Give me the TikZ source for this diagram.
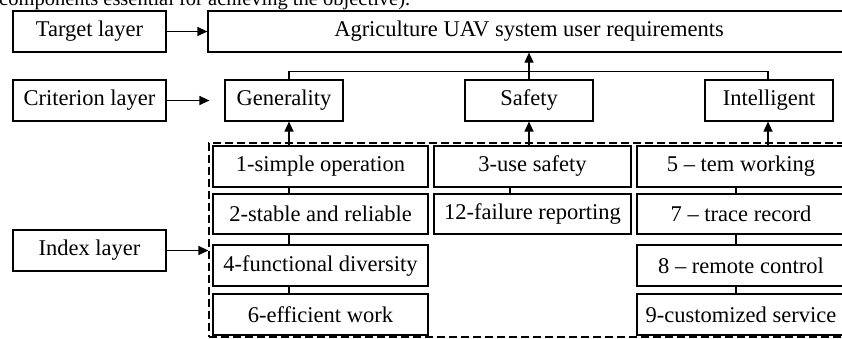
\documentclass[tikz,border=0pt]{standalone}
\usepackage{fontspec}
\setmainfont{Liberation Serif}
\usetikzlibrary{arrows.meta}
\begin{document}
\begin{tikzpicture}[x=1pt,y=-1pt,
  box/.style={draw, line width=1.2pt, inner sep=0pt, font=\fontsize{22.5}{24}\selectfont},
  ln/.style={line width=1.2pt},
  arr/.style={line width=1.2pt, -{Triangle[length=10pt,width=9pt]}},
  frame/.style={draw, line width=1.2pt, dash pattern=on 8pt off 4pt}]
\clip (0,0) rectangle (842,338);
\node[anchor=base west, inner sep=0pt, font=\fontsize{20.5}{22}\selectfont] (cap) at (-1,5.5) {components essential for achieving the objective).};
% left labels
\node[box, minimum width=153pt, minimum height=41pt] (target) at (89.5,31.5) {Target layer};
\node[box, minimum width=153pt, minimum height=41pt] (crit) at (89.5,100.5) {Criterion layer};
\node[box, minimum width=153pt, minimum height=41pt] (index) at (89.5,250.5) {Index layer};
% target
\node[box, minimum width=642pt, minimum height=41pt] (agri) at (529,31.5) {Agriculture UAV system user requirements};
% criteria
\node[box, minimum width=118pt, minimum height=41pt] (gen) at (284,100.5) {Generality};
\node[box, minimum width=128pt, minimum height=41pt] (saf) at (529,100.5) {Safety};
\node[box, minimum width=128pt, minimum height=41pt] (intl) at (769,100.5) {Intelligent};
% index frame
\node[frame, minimum width=641pt, minimum height=194pt] (fr) at (529.5,240) {};
% column 1
\node[box, minimum width=215pt, minimum height=41pt] (a1) at (320.5,166.5) {1-simple operation};
\node[box, minimum width=215pt, minimum height=40pt] (a2) at (320.5,214) {2-stable and reliable};
\node[box, minimum width=215pt, minimum height=41pt] (a3) at (320.5,265.5) {4-functional diversity};
\node[box, minimum width=215pt, minimum height=41pt] (a4) at (320.5,314.5) {6-efficient work};
% column 2
\node[box, minimum width=197pt, minimum height=41pt] (b1) at (532.5,166.5) {3-use safety};
\node[box, minimum width=197pt, minimum height=40pt] (b2) at (532.5,214) {12-failure reporting};
% column 3
\node[box, minimum width=208pt, minimum height=41pt] (c1) at (741,166.5) {5 -- tem working};
\node[box, minimum width=208pt, minimum height=40pt] (c2) at (741,214) {7 -- trace record};
\node[box, minimum width=208pt, minimum height=41pt] (c3) at (741,265.5) {8 -- remote control};
\node[box, minimum width=208pt, minimum height=41pt] (c4) at (741,314.5) {9-customized service};
% layer arrows
\draw[arr] (target) -- (agri);
\draw[arr, shorten >=15pt] (crit) -- (gen);
\draw[arr] (index.east) -- (index.east -| fr.west);
% tree to target
\draw[ln] ([xshift=5pt]gen.north) -- ++(0,-8) -| ([xshift=-1pt]intl.north);
\draw[arr] (saf.north) -- (saf.north |- agri.south);
% index to criteria
\draw[arr] ([xshift=-31.5pt]a1.north) -- ([xshift=-31.5pt]a1.north |- gen.south);
\draw[arr] ([xshift=-3.5pt]b1.north) -- ([xshift=-3.5pt]b1.north |- saf.south);
\draw[arr] ([xshift=27pt]c1.north) -- ([xshift=27pt]c1.north |- intl.south);
% column connectors
\draw[ln] ([xshift=-31.5pt]a1.south) -- ([xshift=-31.5pt]a2.north);
\draw[ln] ([xshift=-31.5pt]a2.south) -- ([xshift=-31.5pt]a3.north);
\draw[ln] ([xshift=-31.5pt]a3.south) -- ([xshift=-31.5pt]a4.north);
\draw[ln] ([xshift=-22.5pt]b1.south) -- ([xshift=-22.5pt]b2.north);
\draw[ln] ([xshift=-5pt]c1.south) -- ([xshift=-5pt]c2.north);
\draw[ln] ([xshift=-5pt]c2.south) -- ([xshift=-5pt]c3.north);
\draw[ln] ([xshift=-5pt]c3.south) -- ([xshift=-5pt]c4.north);
\end{tikzpicture}
\end{document}
